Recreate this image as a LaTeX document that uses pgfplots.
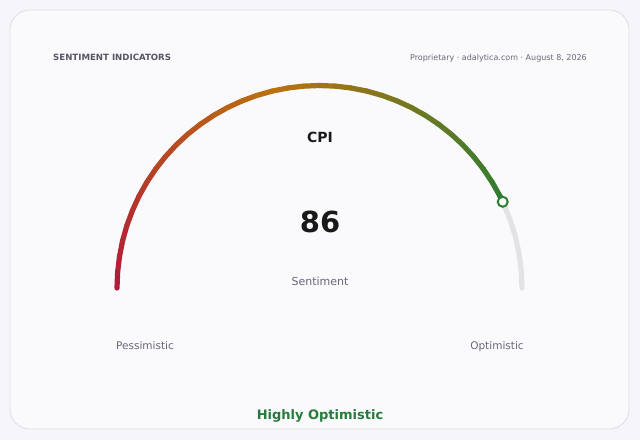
\documentclass[border=0pt]{standalone}
\usepackage{pgfplots}
\pgfplotsset{compat=1.18}
\usepgfplotslibrary{polar}
\usepackage{pgfplotstable}
\usepackage{fontspec}
\setmainfont{DejaVu Sans}

\definecolor{pagebg}{HTML}{F6F6FA}
\definecolor{cardbg}{HTML}{FAFAFD}
\definecolor{cardline}{HTML}{DEDEE6}
\definecolor{trackgray}{HTML}{E3E3E7}
\definecolor{gaugegreen}{HTML}{2E7D32}
\definecolor{labelgreen}{HTML}{267A3C}
\definecolor{headgray}{HTML}{555566}
\definecolor{subgray}{HTML}{686878}

% gauge filled part: angle (deg), value
\pgfplotstableread{
ang v
180 0
175.5 2.5
171 5
166.5 7.5
162 10
157.5 12.5
153 15
148.5 17.5
144 20
139.5 22.5
135 25
130.5 27.5
126 30
121.5 32.5
117 35
112.5 37.5
108 40
103.5 42.5
99 45
94.5 47.5
90 50
85.5 52.5
81 55
76.5 57.5
72 60
67.5 62.5
63 65
58.5 67.5
54 70
49.5 72.5
45 75
40.5 77.5
36 80
31.5 82.5
27 85
25.2 86
}\filled

\begin{document}
\begin{tikzpicture}
\begin{axis}[
  width=640pt, height=440pt, scale only axis,
  xmin=-319.5, xmax=320.5, ymin=-152, ymax=288,
  hide axis, clip=false,
  colormap={gauge}{rgb255(0)=(178,24,60) rgb255(1)=(186,114,14) rgb255(2)=(46,125,50)},
  point meta min=0, point meta max=86,
]
\fill[pagebg] (axis cs:-319.5,-152) rectangle (axis cs:320.5,288);
\draw[cardline, fill=cardbg, rounded corners=20pt, line width=0.8pt]
  (axis cs:-309.5,-141) rectangle (axis cs:309.5,278);

% gray track
\addplot[data cs=polar, trackgray, line width=5.2pt, line cap=round] coordinates {
  (25.2,202.5) (20,202.5) (15,202.5) (10,202.5) (5,202.5) (0,202.5)
};
% coloured part
\addplot[data cs=polar, mesh, line width=5.2pt, line cap=round, point meta=explicit]
  table[x=ang, y expr=202.5, meta=v] {\filled};
% marker
\addplot[data cs=polar, only marks, mark=*, mark size=5pt,
  mark options={draw=gaugegreen, fill=white, line width=2pt}]
  coordinates {(25.2,202.5)};

\node[anchor=base west, inner sep=0pt, font=\bfseries\fontsize{8.6}{10}\selectfont, text=headgray]
  at (axis cs:-266.5,227) {SENTIMENT INDICATORS};
\node[anchor=base east, inner sep=0pt, font=\fontsize{8}{10}\selectfont, text=subgray]
  at (axis cs:267.5,227) {Proprietary · adalytica.com · August 8, 2026};
\node[anchor=base, font=\bfseries\fontsize{14}{16}\selectfont, text=black!90]
  at (axis cs:0.5,146) {CPI};
\node[anchor=base, font=\bfseries\fontsize{29}{32}\selectfont, text=black!90]
  at (axis cs:0.5,56) {86};
\node[anchor=base, font=\fontsize{11}{13}\selectfont, text=subgray]
  at (axis cs:0.5,3) {Sentiment};
\node[anchor=base, font=\fontsize{10.5}{12}\selectfont, text=subgray]
  at (axis cs:-174.5,-61) {Pessimistic};
\node[anchor=base, font=\fontsize{10.5}{12}\selectfont, text=subgray]
  at (axis cs:177.5,-61) {Optimistic};
\node[anchor=base, font=\bfseries\fontsize{13}{15}\selectfont, text=labelgreen]
  at (axis cs:0.5,-131) {Highly Optimistic};
\end{axis}
\end{tikzpicture}
\end{document}
